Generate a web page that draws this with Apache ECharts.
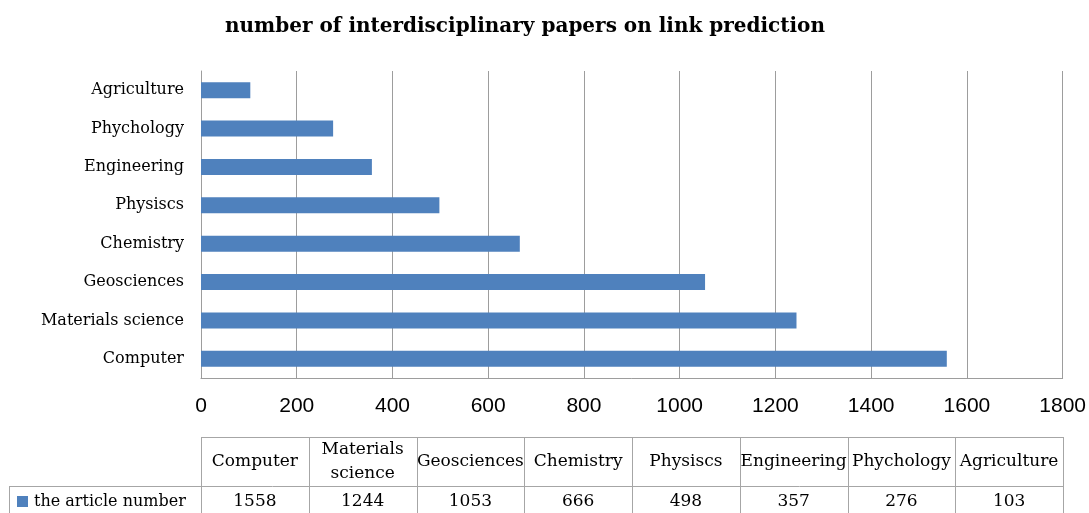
<!DOCTYPE html>
<html>
<head>
<meta charset="utf-8">
<script src="https://cdn.jsdelivr.net/npm/echarts@6/dist/echarts.min.js"></script>
<style>
  html, body { margin: 0; padding: 0; background: #ffffff; }
  #chart { width: 1089px; height: 513px; }
</style>
</head>
<body>
<div id="chart"></div>
<script>
// Disciplines, listed bottom-to-top on the category axis
const categories = ['Computer', 'Materials science', 'Geosciences', 'Chemistry', 'Physiscs', 'Engineering', 'Phychology', 'Agriculture'];
// Number of articles per discipline
const articleNumber = [1558, 1244, 1053, 666, 498, 357, 276, 103];
const seriesName = 'the article number';
// Value axis ticks
const xMin = 0;
const xMax = 1800;
const xInterval = 200;
const titleText = 'number of interdisciplinary papers on link prediction';
// Column headers of the data table (with line breaks)
const tableHeaders = ['Computer', 'Materials\nscience', 'Geosciences', 'Chemistry', 'Physiscs', 'Engineering', 'Phychology', 'Agriculture'];

const BAR_COLOR = '#4f81bd';
const GRID_COLOR = '#9d9d9d';
const SERIF = "'DejaVu Serif', 'Liberation Serif', serif";
const SANS = "'Liberation Sans Narrow', 'Liberation Sans', Arial, sans-serif";

const chart = echarts.init(document.getElementById('chart'), null, { renderer: 'canvas' });

chart.setOption({
  animation: false,
  backgroundColor: '#ffffff',
  grid: { left: 201, right: 26, top: 71, bottom: 135, containLabel: false },
  xAxis: {
    type: 'value',
    min: xMin,
    max: xMax,
    interval: xInterval,
    axisLine: { show: true, lineStyle: { color: GRID_COLOR, width: 1 } },
    axisTick: { show: false },
    splitLine: { show: true, lineStyle: { color: GRID_COLOR, width: 1 } },
    axisLabel: {
      color: '#000', fontFamily: SANS, fontSize: 21, margin: 18, lineHeight: 21,
      formatter: (v) => String(v)
    }
  },
  yAxis: {
    type: 'category',
    data: categories,
    axisLine: { show: true, lineStyle: { color: GRID_COLOR, width: 1 } },
    axisTick: { show: false },
    splitLine: { show: false },
    axisLabel: { color: '#000', fontFamily: SERIF, fontSize: 16, margin: 17 }
  },
  series: [{
    name: seriesName,
    type: 'bar',
    data: articleNumber,
    barWidth: 16,
    itemStyle: { color: BAR_COLOR }
  }]
});

// Title and data table, laid out against the value axis pixel range
function drawExtras() {
  const x0 = Math.round(chart.convertToPixel({ xAxisIndex: 0 }, xMin));
  const x1 = Math.round(chart.convertToPixel({ xAxisIndex: 0 }, xMax));
  const colW = (x1 - x0) / categories.length;
  const top = 437, mid = 486, bottom = 530, tableLeft = 9;
  const lineStyle = { stroke: '#a6a6a6', lineWidth: 1 };
  const els = [];

  els.push({
    type: 'text', x: 525, y: 27,
    style: { text: titleText, font: "bold 20px " + SERIF, fill: '#000', align: 'center', verticalAlign: 'middle' }
  });

  const hl = (xa, xb, y) => els.push({ type: 'line', shape: { x1: xa, y1: y + 0.5, x2: xb, y2: y + 0.5 }, style: lineStyle });
  const vl = (x, ya, yb) => els.push({ type: 'line', shape: { x1: x + 0.5, y1: ya, x2: x + 0.5, y2: yb }, style: lineStyle });

  hl(x0, x1, top);
  hl(tableLeft, x1, mid);
  vl(tableLeft, mid, bottom);
  for (let i = 0; i <= categories.length; i++) {
    vl(Math.round(x0 + i * colW), top, bottom);
  }

  tableHeaders.forEach((h, i) => {
    els.push({
      type: 'text', x: x0 + (i + 0.5) * colW, y: 462,
      style: { text: h, font: "17px " + SERIF, fill: '#000', align: 'center', verticalAlign: 'middle', lineHeight: 24 }
    });
  });
  articleNumber.forEach((v, i) => {
    els.push({
      type: 'text', x: x0 + (i + 0.5) * colW, y: 502,
      style: { text: String(v), font: "17px " + SERIF, fill: '#000', align: 'center', verticalAlign: 'middle' }
    });
  });

  els.push({ type: 'rect', shape: { x: 17, y: 496, width: 11, height: 11 }, style: { fill: BAR_COLOR } });
  els.push({
    type: 'text', x: 34, y: 502,
    style: { text: seriesName, font: "16px " + SERIF, fill: '#000', align: 'left', verticalAlign: 'middle' }
  });

  chart.setOption({ graphic: { elements: els } });
}

drawExtras();
</script>
</body>
</html>
